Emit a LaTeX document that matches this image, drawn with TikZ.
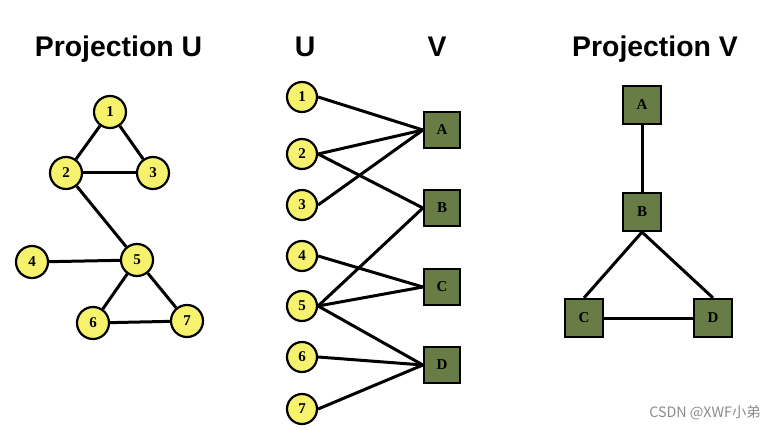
\documentclass[tikz,border=0pt]{standalone}
\usepackage{fontspec}
\setmainfont{Liberation Serif}
\newfontfamily\titlefont{Liberation Sans}
\newfontfamily\cjkfont{Noto Sans CJK SC}
\definecolor{nodeyellow}{RGB}{247,242,110}
\definecolor{nodegreen}{RGB}{104,124,70}
\begin{document}
\begin{tikzpicture}[x=1pt,y=-1pt,
  lbl/.style={font=\bfseries\fontsize{15}{15}\selectfont},
  unode/.style={circle,draw=black,line width=2.2pt,fill=nodeyellow,minimum size=32pt,inner sep=0pt,lbl},
  bnode/.style={circle,draw=black,line width=2.2pt,fill=nodeyellow,minimum size=30pt,inner sep=0pt,lbl},
  vnode/.style={rectangle,draw=black,line width=2.2pt,fill=nodegreen,minimum size=36pt,inner sep=0pt,lbl},
  pnode/.style={rectangle,draw=black,line width=2.2pt,fill=nodegreen,minimum size=38pt,inner sep=0pt,lbl},
  edge/.style={line width=3pt,draw=black},
  title/.style={anchor=base,font=\titlefont\bfseries\fontsize{28.4}{30}\selectfont}]
\useasboundingbox[fill=white] (0,0) rectangle (775,430);
% titles
\node[title] (tU) at (118.5,57) {Projection U};
\node[title] (tu) at (305,57) {U};
\node[title] (tv) at (437,57) {V};
\node[title] (tV) at (655,57) {Projection V};
% Projection U
\node[unode] (l1) at (110,112) {1};
\node[unode] (l2) at (66,173) {2};
\node[unode] (l3) at (153,173) {3};
\node[unode] (l4) at (32,262) {4};
\node[unode] (l5) at (137,260) {5};
\node[unode] (l6) at (93,323) {6};
\node[unode] (l7) at (187,321) {7};
\draw[edge] (l1) -- (l2);
\draw[edge] (l1) -- (l3);
\draw[edge] (l2) -- (l3);
\draw[edge] (l2) -- (l5);
\draw[edge] (l4) -- (l5);
\draw[edge] (l5) -- (l6);
\draw[edge] (l5) -- (l7);
\draw[edge] (l6) -- (l7);
% bipartite
\node[bnode] (u1) at (302,97) {1};
\node[bnode] (u2) at (302,154) {2};
\node[bnode] (u3) at (302,205) {3};
\node[bnode] (u4) at (302,256) {4};
\node[bnode] (u5) at (302,306) {5};
\node[bnode] (u6) at (302,357) {6};
\node[bnode] (u7) at (302,409) {7};
\node[vnode] (vA) at (442,130) {A};
\node[vnode] (vB) at (442,208) {B};
\node[vnode] (vC) at (442,287) {C};
\node[vnode] (vD) at (442,365) {D};
\draw[edge] (u1.east) -- (vA.west);
\draw[edge] (u2.east) -- (vA.west);
\draw[edge] (u3.east) -- (vA.west);
\draw[edge] (u2.east) -- (vB.west);
\draw[edge] (u5.east) -- (vB.west);
\draw[edge] (u4.east) -- (vC.west);
\draw[edge] (u5.east) -- (vC.west);
\draw[edge] (u5.east) -- (vD.west);
\draw[edge] (u6.east) -- (vD.west);
\draw[edge] (u7.east) -- (vD.west);
% Projection V
\node[pnode] (pA) at (642,105) {A};
\node[pnode] (pB) at (642,212) {B};
\node[pnode] (pC) at (584,318) {C};
\node[pnode] (pD) at (713,318) {D};
\draw[edge] (pA.south) -- (pB.north);
\draw[edge] (pB.south) -- (pC.north);
\draw[edge] (pB.south) -- (pD.north);
\draw[edge] (pC.east) -- (pD.west);
% watermark
\node[text=black!45,font=\cjkfont\fontsize{14.3}{15}\selectfont] (wm) at (705,413) {CSDN @XWF小弟};
\end{tikzpicture}
\end{document}
